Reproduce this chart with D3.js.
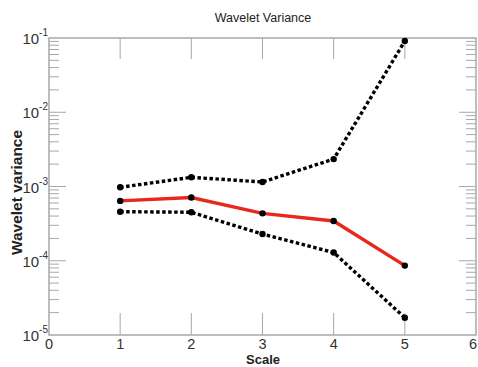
<!DOCTYPE html>
<html>
<head>
<meta charset="utf-8">
<script src="https://cdn.jsdelivr.net/npm/d3@7"></script>
<style>
  body { margin: 0; background: #fff; }
  text { font-family: "Liberation Sans", Arial, sans-serif; }
</style>
</head>
<body>
<svg id="chart" width="478" height="367"></svg>
<script>
const scales = [1, 2, 3, 4, 5];
const variance = [6.4e-4, 7.1e-4, 4.35e-4, 3.43e-4, 8.6e-5];
const upperBound = [9.75e-4, 1.33e-3, 1.15e-3, 2.34e-3, 0.091];
const lowerBound = [4.58e-4, 4.5e-4, 2.29e-4, 1.29e-4, 1.71e-5];
const xTicks = [0, 1, 2, 3, 4, 5, 6];
const yExponents = [-1, -2, -3, -4, -5];

const margin = { top: 38, right: 2, bottom: 32, left: 49 };
const width = 478, height = 367;
const svg = d3.select("#chart");

const x = d3.scaleLinear().domain([0, 6]).range([margin.left, width - margin.right]);
const y = d3.scaleLog().domain([1e-5, 1e-1]).range([height - margin.bottom, margin.top]);

const frame = "#a8a8a8";
const [x0, x1] = x.range();
const [y1, y0] = y.range();

// frame
svg.append("rect")
  .attr("x", x0).attr("y", y0)
  .attr("width", x1 - x0).attr("height", y1 - y0)
  .attr("fill", "none").attr("stroke", frame).attr("stroke-width", 1.5);

// x ticks (inward, top and bottom)
const gx = svg.append("g").attr("stroke", frame).attr("stroke-width", 1);
xTicks.slice(1, -1).forEach((t) => {
  gx.append("line").attr("x1", x(t)).attr("x2", x(t)).attr("y1", y1).attr("y2", y1 - 22);
  gx.append("line").attr("x1", x(t)).attr("x2", x(t)).attr("y1", y0).attr("y2", y0 + 21);
});

// y ticks (log, inward, left and right)
const gy = svg.append("g").attr("stroke", frame).attr("stroke-width", 1);
for (let e = -5; e <= -2; e++) {
  for (let m = 1; m <= 9; m++) {
    const v = m * Math.pow(10, e);
    if (m === 1 && e === -5) continue;
    const len = m === 1 ? 17 : 10;
    gy.append("line").attr("x1", x0).attr("x2", x0 + len).attr("y1", y(v)).attr("y2", y(v));
    gy.append("line").attr("x1", x1).attr("x2", x1 - len).attr("y1", y(v)).attr("y2", y(v));
  }
}

// x tick labels
svg.append("g").selectAll("text").data(xTicks).join("text")
  .attr("x", (d) => x(d) + (d === 6 ? 1 : 0)).attr("y", y1 + 14)
  .attr("text-anchor", (d) => (d === 6 ? "end" : "middle"))
  .attr("font-size", 14.5).attr("fill", "#333")
  .text((d) => d);

// y tick labels
const yl = svg.append("g").selectAll("text").data(yExponents).join("text")
  .attr("x", x0 - 1).attr("y", (d) => y(Math.pow(10, d)) + 6)
  .attr("text-anchor", "end").attr("font-size", 15).attr("fill", "#333");
yl.append("tspan").text("10");
yl.append("tspan").attr("dy", -8).attr("font-size", 10).text((d) => d);

// titles
svg.append("text").attr("x", 263).attr("y", 22).attr("text-anchor", "middle")
  .attr("font-size", 12.5).attr("fill", "#222").text("Wavelet Variance");
svg.append("text").attr("x", 263).attr("y", 364).attr("text-anchor", "middle")
  .attr("font-size", 13).attr("font-weight", "bold").attr("fill", "#222").text("Scale");
svg.append("text").attr("transform", `translate(22,${(y0 + y1) / 2 + 6}) rotate(-90)`)
  .attr("text-anchor", "middle").attr("font-size", 15.5).attr("font-weight", "bold")
  .attr("fill", "#222").text("Wavelet variance");

// series
const line = d3.line().x((d) => x(d[0])).y((d) => y(d[1]));
const series = [
  { values: upperBound, color: "#000", dash: "3.5,2.5", w: 3.4 },
  { values: lowerBound, color: "#000", dash: "3.5,2.5", w: 3.4 },
  { values: variance, color: "#e8281c", dash: null, w: 3.4 },
];
series.forEach((s) => {
  const pts = scales.map((d, i) => [d, s.values[i]]);
  svg.append("path").datum(pts)
    .attr("fill", "none").attr("stroke", s.color).attr("stroke-width", s.w)
    .attr("stroke-dasharray", s.dash).attr("d", line);
  svg.append("g").selectAll("circle").data(pts).join("circle")
    .attr("cx", (d) => x(d[0])).attr("cy", (d) => y(d[1])).attr("r", 3.2).attr("fill", "#000");
});
</script>
</body>
</html>
